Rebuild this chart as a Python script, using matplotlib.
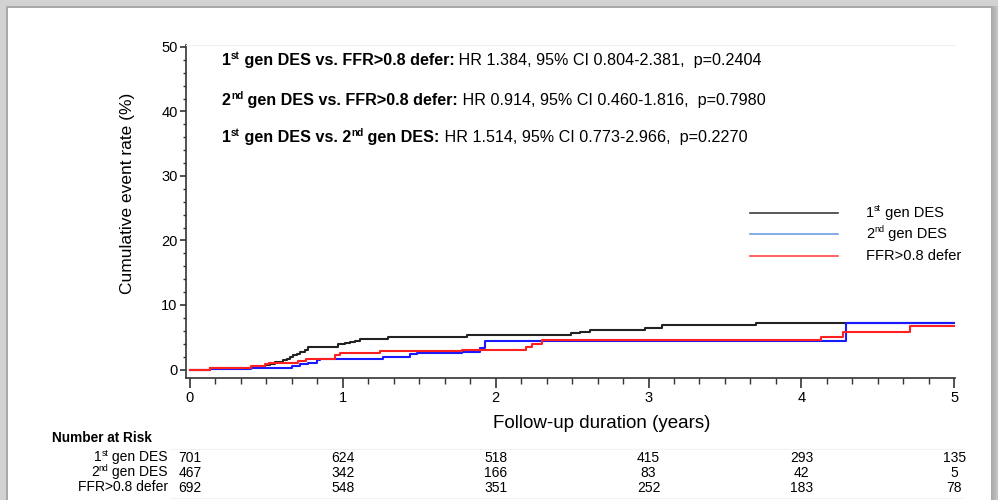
import matplotlib
matplotlib.use("Agg")
import matplotlib.pyplot as plt
from matplotlib.patches import Rectangle
from matplotlib.lines import Line2D
from matplotlib.ticker import MultipleLocator
import matplotlib.transforms as mtransforms
from matplotlib import font_manager

# ---- data -------------------------------------------------------------
gen1_t = [0, 0.13, 0.40, 0.49, 0.524, 0.556, 0.611, 0.633, 0.654, 0.676, 0.698,
          0.72, 0.753, 0.774, 0.971, 1.014, 1.047, 1.08, 1.113, 1.298, 1.811,
          2.49, 2.55, 2.62, 2.98, 3.09, 3.70, 5.0]
gen1_v = [0, 0.25, 0.4, 0.67, 0.93, 1.18, 1.44, 1.70, 1.96, 2.22, 2.48,
          2.73, 3.0, 3.51, 3.88, 4.04, 4.19, 4.44, 4.66, 5.06, 5.37,
          5.6, 5.85, 6.1, 6.37, 6.9, 7.2, 7.2]

gen2_t = [0, 0.13, 0.40, 0.665, 0.72, 0.775, 0.83, 0.85, 1.265, 1.44, 1.484,
          1.778, 1.898, 1.93, 4.29, 5.0]
gen2_v = [0, 0.05, 0.3, 0.51, 0.78, 1.03, 1.45, 1.7, 1.96, 2.33, 2.58,
          2.74, 3.26, 4.35, 7.24, 7.24]

ffr_t = [0, 0.13, 0.40, 0.49, 0.52, 0.71, 0.76, 0.95, 0.98, 1.24, 1.78,
         2.20, 2.24, 2.30, 4.13, 4.27, 4.71, 5.0]
ffr_v = [0, 0.25, 0.5, 0.78, 1.0, 1.3, 1.7, 2.2, 2.58, 2.84, 3.1,
         3.5, 4.0, 4.55, 5.06, 5.74, 6.72, 6.72]

risk_years = [0, 1, 2, 3, 4, 5]
risk_gen1 = [701, 624, 518, 415, 293, 135]
risk_gen2 = [467, 342, 166, 83, 42, 5]
risk_ffr = [692, 548, 351, 252, 183, 78]

# ---- fonts ------------------------------------------------------------
avail = {f.name for f in font_manager.fontManager.ttflist}
SANS = ["Liberation Sans", "DejaVu Sans"]
NARROW = (["Liberation Sans Narrow"] if "Liberation Sans Narrow" in avail else []) + SANS
plt.rcParams["font.family"] = SANS

W, H = 998, 500
fig = plt.figure(figsize=(W / 100, H / 100), dpi=100)
fig.patch.set_facecolor("#d2d2d2")


def fx(x):
    return x / W


def fy(y):
    return 1 - y / H


# slide card with a soft shadow on the right
for i, a in enumerate([0.10, 0.12, 0.14, 0.16]):
    fig.patches.append(Rectangle((fx(6), 0), fx(992 + 2 * i) - fx(6), fy(6),
                                 transform=fig.transFigure, facecolor="#777777",
                                 alpha=a, edgecolor="none", zorder=-10))
fig.patches.append(Rectangle((fx(8), 0), fx(991) - fx(8), fy(8),
                             transform=fig.transFigure, facecolor="white",
                             edgecolor="none", zorder=-9))

# ---- axes -------------------------------------------------------------
ax = fig.add_axes([fx(186), fy(377.5), fx(955) - fx(186), fy(45) - fy(377.5)])
ax.set_facecolor("none")
ax.set_xlim(-0.026, 5.005)
ax.set_ylim(-1.24, 50.3)

ax.step(gen1_t, gen1_v, where="post", color="#222222", lw=1.5, zorder=3)
ax.step(gen2_t, gen2_v, where="post", color="#1a1aff", lw=1.5, zorder=4)
ax.step(ffr_t, ffr_v, where="post", color="#ff2020", lw=1.5, zorder=5)

ax.spines["right"].set_visible(False)
ax.spines["top"].set_color("#f0f0f0")
for s in ("left", "bottom"):
    ax.spines[s].set_color("#333333")
    ax.spines[s].set_linewidth(1.2)

ax.xaxis.set_major_locator(MultipleLocator(1))
ax.xaxis.set_minor_locator(MultipleLocator(1 / 6))
ax.yaxis.set_major_locator(MultipleLocator(10))
ax.yaxis.set_minor_locator(MultipleLocator(2))
ax.tick_params(axis="x", which="major", length=7, width=1.2, color="#333333",
               labelsize=10.5, pad=3)
ax.tick_params(axis="x", which="minor", length=4, width=1.0, color="#333333")
ax.tick_params(axis="y", which="major", length=4, width=1.2, color="#333333",
               labelsize=10.5, pad=2)
ax.tick_params(axis="y", which="minor", length=2, width=1.0, color="#333333")

fig.text(fx(128), fy(193), "Cumulative event rate (%)", rotation=90,
         ha="center", va="center", fontsize=12.5, family=NARROW)
fig.text(fx(602), fy(424), "Follow-up duration (years)", ha="center",
         va="center", fontsize=13.5, family=SANS)


# ---- helpers for mixed-style text runs ---------------------------------
def rich_run(x, y, pieces, size, family):
    """Left-aligned run of (text, superscript, weight) pieces on one baseline."""
    first = fig.text(fx(x), fy(y), pieces[0][0], fontsize=size,
                     weight=pieces[0][2], family=family, va="bottom", ha="left")
    last = first
    for txt, sup, weight in pieces[1:]:
        fs = size * 0.62 if sup else size
        dy = size * 0.45 if sup else 0
        last = fig.add_artist(plt.Annotation(
            txt, xy=(1, 0), xycoords=(last, first), xytext=(0, dy),
            textcoords="offset points", fontsize=fs, weight=weight,
            family=family, va="bottom", ha="left", annotation_clip=False))
    return last


def rich_run_right(x, y, pieces, size, family):
    """Right-aligned run: the last piece ends at x, earlier pieces chain left."""
    txt, sup, weight = pieces[-1]
    anchor = fig.text(fx(x), fy(y), txt, fontsize=size, weight=weight,
                      family=family, va="bottom", ha="right")
    last = anchor
    for txt, sup, weight in reversed(pieces[:-1]):
        fs = size * 0.62 if sup else size
        dy = size * 0.45 if sup else 0
        last = fig.add_artist(plt.Annotation(
            txt, xy=(0, 0), xycoords=(last, anchor), xytext=(0, dy),
            textcoords="offset points", fontsize=fs, weight=weight,
            family=family, va="bottom", ha="right", annotation_clip=False))
    return anchor


# ---- legend -----------------------------------------------------------
leg_rows = [
    ([("1", False, "normal"), ("st", True, "normal"), (" gen DES", False, "normal")], "#3c3c3c", 213),
    ([("2", False, "normal"), ("nd", True, "normal"), (" gen DES", False, "normal")], "#6e9ee0", 234),
    ([("FFR>0.8 defer", False, "normal")], "#ff4848", 256),
]
for pieces, col, yy in leg_rows:
    fig.add_artist(Line2D([fx(750), fx(838)], [fy(yy), fy(yy)], color=col,
                          lw=1.2, transform=fig.transFigure))
    rich_run(866, yy + 7, pieces, 10.5, SANS)

# ---- hazard ratio annotations ----------------------------------------
hr_rows = [
    (68, [("1", False, "bold"), ("st", True, "bold"),
          (" gen DES vs. FFR>0.8 defer:", False, "bold"),
          (" HR 1.384, 95% CI 0.804-2.381,  p=0.2404", False, "normal")]),
    (108, [("2", False, "bold"), ("nd", True, "bold"),
           (" gen DES vs. FFR>0.8 defer:", False, "bold"),
           (" HR 0.914, 95% CI 0.460-1.816,  p=0.7980", False, "normal")]),
    (145, [("1", False, "bold"), ("st", True, "bold"), (" gen DES vs. 2", False, "bold"),
           ("nd", True, "bold"), (" gen DES:", False, "bold"),
           (" HR 1.514, 95% CI 0.773-2.966,  p=0.2270", False, "normal")]),
]
for yy, pieces in hr_rows:
    rich_run(222, yy, pieces, 11.6, SANS)

# ---- number at risk table --------------------------------------------
fig.text(fx(52), fy(438), "Number at Risk", fontsize=9.8, weight="bold",
         family=NARROW, va="center", ha="left")
tbl_rows = [
    ([("1", False, "normal"), ("st", True, "normal"), (" gen DES", False, "normal")], risk_gen1, 458),
    ([("2", False, "normal"), ("nd", True, "normal"), (" gen DES", False, "normal")], risk_gen2, 473),
    ([("FFR>0.8 defer", False, "normal")], risk_ffr, 488),
]
blend = mtransforms.blended_transform_factory(ax.transData, fig.transFigure)
for pieces, counts, yy in tbl_rows:
    rich_run_right(168, yy + 6, pieces, 10, NARROW)
    for yr, n in zip(risk_years, counts):
        ax.text(yr, fy(yy), str(n), transform=blend, ha="center", va="center",
                fontsize=10, family=NARROW, clip_on=False)

for line_y in (449, 498):
    fig.add_artist(Line2D([fx(170), fx(962)], [fy(line_y), fy(line_y)],
                          color="#f2f2f2", lw=0.8, transform=fig.transFigure))

fig.savefig("out.png", dpi=100)
